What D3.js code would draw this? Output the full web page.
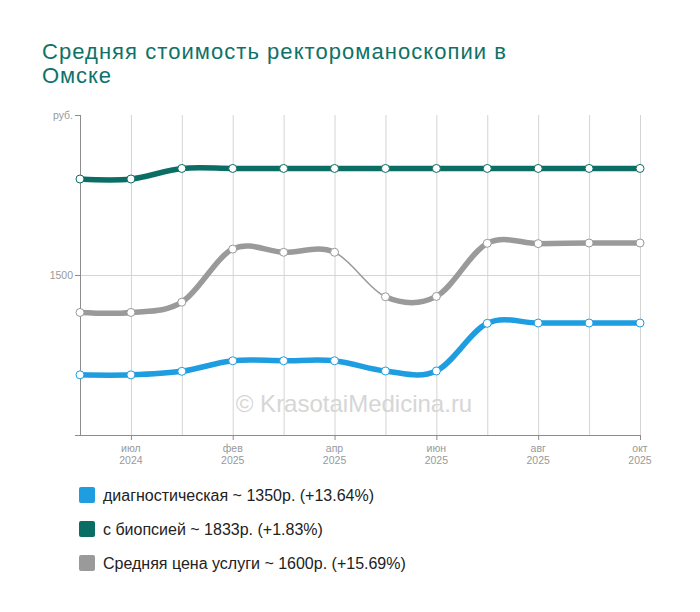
<!DOCTYPE html>
<html><head><meta charset="utf-8">
<script src="https://cdn.jsdelivr.net/npm/d3@7"></script>
<style>
body{margin:0;background:#fff;font-family:"Liberation Sans",Arial,sans-serif;}
</style></head>
<body><svg id="c" width="700" height="612"></svg>
<script>
const categories = ["июн 2024","июл 2024","дек 2024","фев 2025","мар 2025","апр 2025","май 2025","июн 2025","июл 2025","авг 2025","сен 2025","окт 2025"];
const tickIdx = [1,3,5,7,9,11];
const diagnostic = [1188,1188,1199,1232,1232,1232,1200,1200,1349,1350,1350,1350];
const biopsy = [1800,1800,1833,1833,1833,1833,1833,1833,1833,1833,1833,1833];
const average = [1383,1383,1415,1581,1571,1571,1432,1433,1599,1598,1600,1600];
const seriesNames = ["диагностическая ~ 1350р. (+13.64%)","с биопсией ~ 1833р. (+1.83%)","Средняя цена услуги ~ 1600р. (+15.69%)"];
const seriesColors = ["#1e9de0","#0b6e64","#9a9a9a"];
const yTicks = [1500];
const title = ["Средняя стоимость ректороманоскопии в","Омске"];

const svg = d3.select("#c");
const L=80,R=640,T=115,B=435;
const x = d3.scalePoint().domain(d3.range(categories.length)).range([L,R]);
const y = d3.scaleLinear().domain([1000,2000]).range([B,T]);

// title
const tt = svg.append("text").attr("fill","#0e7268").attr("font-size",22);
tt.append("tspan").attr("x",42).attr("y",58.5).attr("textLength",464).attr("lengthAdjust","spacing").text(title[0]);
tt.append("tspan").attr("x",42).attr("y",83).attr("textLength",69).attr("lengthAdjust","spacing").text(title[1]);

// grid
svg.append("g").selectAll("line").data(d3.range(categories.length)).join("line")
  .attr("x1",d=>x(d)+0.5).attr("x2",d=>x(d)+0.5).attr("y1",T).attr("y2",B).attr("stroke","#d4d4d4").attr("stroke-width",1);
svg.append("g").selectAll("line").data(yTicks).join("line")
  .attr("x1",L).attr("x2",R).attr("y1",d=>y(d)+0.5).attr("y2",d=>y(d)+0.5).attr("stroke","#d4d4d4");

// axes
const ax = svg.append("g").attr("stroke","#8c8c8c").attr("stroke-width",1);
ax.append("line").attr("x1",L+0.5).attr("x2",L+0.5).attr("y1",T).attr("y2",B);
ax.append("line").attr("x1",75).attr("x2",R).attr("y1",B+0.5).attr("y2",B+0.5);
[T,...yTicks.map(y)].forEach(v=>ax.append("line").attr("x1",75).attr("x2",L).attr("y1",v+0.5).attr("y2",v+0.5));
tickIdx.forEach(i=>ax.append("line").attr("x1",x(i)+0.5).attr("x2",x(i)+0.5).attr("y1",B).attr("y2",B+5));

svg.append("text").attr("x",73).attr("y",T+4).attr("text-anchor","end").attr("font-size",10.5).attr("fill","#999").text("руб.");
svg.selectAll(".yl").data(yTicks).join("text").attr("x",73).attr("y",d=>y(d)+4).attr("text-anchor","end").attr("font-size",10.5).attr("fill","#999").text(d=>d);

const xl = svg.append("g").selectAll("text").data(tickIdx).join("text")
  .attr("text-anchor","middle").attr("font-size",10.5).attr("fill","#999");
xl.append("tspan").attr("x",d=>x(d)).attr("y",B+17).text(d=>categories[d].split(" ")[0]);
xl.append("tspan").attr("x",d=>x(d)).attr("y",B+29).text(d=>categories[d].split(" ")[1]);

// watermark
svg.append("text").attr("x",354).attr("y",412).attr("text-anchor","middle").attr("font-size",24).attr("fill","#d6d6d6").text("© KrasotaiMedicina.ru");

// lines
const line = d3.line().x((d,i)=>x(i)).y(d=>y(d)).curve(d3.curveCardinal.tension(0));
const data = [diagnostic,biopsy,average];
const defs = svg.append("defs");
defs.append("clipPath").attr("id","thickclip").selectAll("rect")
  .data([[0,x(5)],[x(6),700]]).join("rect").attr("x",d=>d[0]).attr("y",0).attr("width",d=>d[1]-d[0]).attr("height",612);
defs.append("clipPath").attr("id","thinclip").append("rect").attr("x",x(5)).attr("y",0).attr("width",x(6)-x(5)).attr("height",612);

[2,0,1].forEach(k=>{
  const g = svg.append("g");
  if(k===2){
    g.append("path").attr("d",line(data[k])).attr("fill","none").attr("stroke",seriesColors[k]).attr("stroke-width",5.5).attr("clip-path","url(#thickclip)");
    g.append("path").attr("d",line(data[k])).attr("fill","none").attr("stroke",seriesColors[k]).attr("stroke-width",1.5).attr("clip-path","url(#thinclip)");
  } else {
    g.append("path").attr("d",line(data[k])).attr("fill","none").attr("stroke",seriesColors[k]).attr("stroke-width",5.5);
  }
  g.selectAll("circle").data(data[k]).join("circle").attr("cx",(d,i)=>x(i)).attr("cy",d=>y(d)).attr("r",4)
    .attr("fill","#fff").attr("stroke",seriesColors[k]).attr("stroke-width",1);
});

// legend
const lg = svg.append("g").selectAll("g").data(seriesNames).join("g").attr("transform",(d,i)=>`translate(79,${487+i*34})`);
lg.append("rect").attr("width",16).attr("height",16).attr("rx",2).attr("fill",(d,i)=>seriesColors[i]);
lg.append("text").attr("x",24).attr("y",14).attr("font-size",16).attr("fill","#222").text(d=>d);
</script></body></html>
